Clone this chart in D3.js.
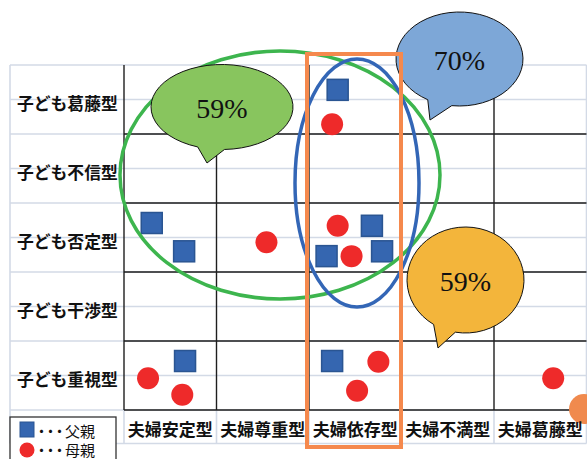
<!DOCTYPE html>
<html>
<head>
<meta charset="utf-8">
<script src="https://cdn.jsdelivr.net/npm/d3@7"></script>
<style>
  html, body { margin: 0; padding: 0; background: #fff; }
  svg { display: block; }
</style>
</head>
<body>
<svg id="chart" width="587" height="459"></svg>
<script>
// Categories: couple types (columns) and child types (rows, top to bottom)
const coupleTypes = ['夫婦安定型', '夫婦尊重型', '夫婦依存型', '夫婦不満型', '夫婦葛藤型'];
const childTypes = ['子ども葛藤型', '子ども不信型', '子ども否定型', '子ども干渉型', '子ども重視型'];

// Father responses: position within the grid (column units from left, row units from bottom)
const fatherX = [2.31, 0.30, 0.65, 2.68, 2.19, 2.79, 0.66, 2.25];
const fatherY = [4.64, 2.71, 2.30, 2.67, 2.23, 2.30, 0.71, 0.71];

// Mother responses
const motherX = [2.25, 2.31, 2.46, 1.54, 0.26, 0.63, 2.75, 2.52, 4.64];
const motherY = [4.14, 2.67, 2.23, 2.43, 0.46, 0.22, 0.70, 0.28, 0.46];

// Callout percentages
const calloutLabels = ['59%', '70%', '59%'];
const legendLabels = ['父親', '母親'];

const svg = d3.select('#chart');
const plotLeft = 124, plotRight = 586.5, plotTop = 65, plotBottom = 410, labelBottom = 443.5, sheetLeft = 10;

const x = d3.scaleLinear().domain([0, 5]).range([plotLeft, plotRight]);
const y = d3.scaleLinear().domain([0, 5]).range([plotBottom, plotTop]);
const xBand = d3.scaleBand().domain(coupleTypes).range([plotLeft, plotRight]);
const yBand = d3.scaleBand().domain(childTypes).range([plotTop, plotBottom]);

const gridLight = '#D3DAE6';
const gridDark = '#1e1e1e';

// Spreadsheet light gridlines (every half row)
const halfRows = d3.range(0, 5.25, 0.5);
svg.append('g').selectAll('line').data(halfRows).join('line')
  .attr('x1', sheetLeft).attr('x2', plotRight)
  .attr('y1', d => y(d)).attr('y2', d => y(d))
  .attr('stroke', gridLight).attr('stroke-width', 1.6);
svg.append('line').attr('x1', sheetLeft).attr('x2', plotRight)
  .attr('y1', labelBottom).attr('y2', labelBottom)
  .attr('stroke', gridLight).attr('stroke-width', 1.6);
// light verticals: sheet edges and label-row separators
svg.append('g').selectAll('line').data([sheetLeft, plotRight]).join('line')
  .attr('x1', d => d).attr('x2', d => d).attr('y1', plotTop).attr('y2', labelBottom)
  .attr('stroke', gridLight).attr('stroke-width', 1.6);
svg.append('g').selectAll('line').data(d3.range(0, 5)).join('line')
  .attr('x1', d => x(d)).attr('x2', d => x(d)).attr('y1', plotBottom).attr('y2', labelBottom)
  .attr('stroke', gridLight).attr('stroke-width', 1.6);

// Dark cell borders in the plotting area
svg.append('g').selectAll('line').data([0, 1, 2, 3, 4]).join('line')
  .attr('x1', plotLeft).attr('x2', plotRight)
  .attr('y1', d => y(d)).attr('y2', d => y(d))
  .attr('stroke', gridDark).attr('stroke-width', 1.4);
svg.append('g').selectAll('line').data([0, 1, 2, 3, 4]).join('line')
  .attr('x1', d => x(d)).attr('x2', d => x(d))
  .attr('y1', plotTop).attr('y2', plotBottom)
  .attr('stroke', gridDark).attr('stroke-width', 1.4);

// Markers
const sq = 21;
svg.append('g').selectAll('rect').data(fatherX.map((v, i) => [v, fatherY[i]])).join('rect')
  .attr('x', d => x(d[0]) - sq / 2).attr('y', d => y(d[1]) - sq / 2)
  .attr('width', sq).attr('height', sq)
  .attr('fill', '#3566B0').attr('stroke', '#2A5592').attr('stroke-width', 1.5);
svg.append('g').selectAll('circle').data(motherX.map((v, i) => [v, motherY[i]])).join('circle')
  .attr('cx', d => x(d[0])).attr('cy', d => y(d[1])).attr('r', 11)
  .attr('fill', '#EE2A2A');

// Grouping outlines
svg.append('ellipse').attr('cx', 280).attr('cy', 175).attr('rx', 160).attr('ry', 124)
  .attr('fill', 'none').attr('stroke', '#3DB54E').attr('stroke-width', 3.5);
svg.append('ellipse').attr('cx', 357).attr('cy', 183).attr('rx', 62).attr('ry', 124)
  .attr('fill', 'none').attr('stroke', '#3366B6').attr('stroke-width', 3.5);

// Speech-bubble callouts
const callouts = [
  { cx: 222, cy: 107, rx: 71, ry: 42.5, a0: 88, a1: 110, tip: [207, 163], fill: '#88C55E', ty: 118 },
  { cx: 459.5, cy: 59, rx: 63.5, ry: 47, a0: 97, a1: 120, tip: [430, 120], fill: '#7DA7D7', ty: 70 },
  { cx: 465.5, cy: 280, rx: 58.5, ry: 53, a0: 100, a1: 123, tip: [438, 348], fill: '#F3B53B', ty: 291 }
];
function bubblePath(c) {
  const p = a => [c.cx + c.rx * Math.cos(a * Math.PI / 180), c.cy + c.ry * Math.sin(a * Math.PI / 180)];
  const s = p(c.a1), e = p(c.a0);
  return `M${s[0]},${s[1]} A${c.rx},${c.ry} 0 1 1 ${e[0]},${e[1]} L${c.tip[0]},${c.tip[1]} Z`;
}
const cg = svg.append('g').selectAll('g').data(callouts).join('g');
cg.append('path').attr('d', bubblePath)
  .attr('fill', d => d.fill).attr('stroke', '#111').attr('stroke-width', 1);
cg.append('text').attr('x', d => d.cx).attr('y', d => d.ty)
  .attr('text-anchor', 'middle')
  .attr('font-family', '"Liberation Serif", "DejaVu Serif", serif')
  .attr('font-size', 28).attr('fill', '#111')
  .text((d, i) => calloutLabels[i]);

// Highlight box around the 夫婦依存型 column
svg.append('rect')
  .attr('x', xBand('夫婦依存型') - 2).attr('y', 54)
  .attr('width', xBand.bandwidth() + 1.5).attr('height', 393)
  .attr('fill', 'none').attr('stroke', '#F5894D').attr('stroke-width', 4);

// Partial marker at the right edge
svg.append('circle').attr('cx', 584).attr('cy', 409).attr('r', 15).attr('fill', '#F08A4E');

// Axis labels
const labelFont = '"Noto Sans CJK JP", "Noto Sans", sans-serif';
svg.append('g').selectAll('text').data(childTypes).join('text')
  .attr('x', 17).attr('y', d => yBand(d) + yBand.bandwidth() / 2 + 3)
  .attr('dominant-baseline', 'central')
  .attr('font-family', labelFont).attr('font-weight', 700).attr('font-size', 16.8)
  .attr('fill', '#111').text(d => d);
svg.append('g').selectAll('text').data(coupleTypes).join('text')
  .attr('x', d => xBand(d) + xBand.bandwidth() / 2).attr('y', 428)
  .attr('text-anchor', 'middle').attr('dominant-baseline', 'central')
  .attr('font-family', labelFont).attr('font-weight', 700).attr('font-size', 17)
  .attr('fill', '#111').text(d => d);

// Legend
const lg = svg.append('g');
lg.append('rect').attr('x', 10).attr('y', 417).attr('width', 106).attr('height', 60)
  .attr('fill', '#fff').attr('stroke', '#333').attr('stroke-width', 1.3);
lg.append('rect').attr('x', 20).attr('y', 422).attr('width', 14).attr('height', 15)
  .attr('fill', '#3566B0').attr('stroke', '#2A5592').attr('stroke-width', 1);
lg.append('circle').attr('cx', 27).attr('cy', 450).attr('r', 7.5).attr('fill', '#EE2A2A');
lg.selectAll('text').data(legendLabels).join('text')
  .attr('x', 34).attr('y', (d, i) => 430 + i * 19)
  .attr('dominant-baseline', 'central')
  .attr('font-family', labelFont).attr('font-size', 15).attr('fill', '#111')
  .each(function (d) {
    const t = d3.select(this);
    t.append('tspan').attr('letter-spacing', -6).text('・・・');
    t.append('tspan').attr('dx', 4).text(d);
  });
</script>
</body>
</html>
